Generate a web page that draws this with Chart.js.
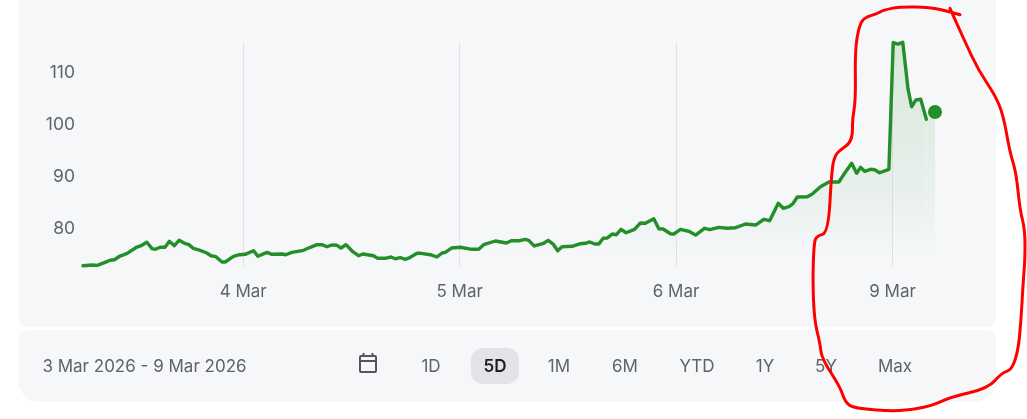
<!DOCTYPE html>
<html><head><meta charset="utf-8">
<script src="https://cdn.jsdelivr.net/npm/chart.js@4"></script>
<style>
html,body{margin:0;padding:0;background:#fff;width:1027px;height:419px;overflow:hidden;font-family:Inter,sans-serif}
.p{position:absolute;background:#f6f7f9}
#top{left:18px;top:-10px;width:978px;height:337px;border-radius:0 0 9px 9px}
#bot{left:18px;top:330px;width:978px;height:72px;border-radius:9px 9px 22px 22px}
canvas{position:absolute;left:0;top:0}
.t{position:absolute;top:355px;height:22px;line-height:22px;font-size:17px;color:#5f6368;white-space:nowrap;transform:translateX(-50%)}
#pill{position:absolute;left:471px;top:348px;width:48px;height:36px;border-radius:12px;background:#e2e3e8}
svg{position:absolute;left:0;top:0}
</style></head><body>
<div class="p" id="top"></div><div class="p" id="bot"></div><div id="pill"></div>
<canvas id="c" width="1027" height="419"></canvas>
<div class="t" style="left:144.5px">3 Mar 2026 - 9 Mar 2026</div>
<svg width="1027" height="419" viewBox="0 0 1027 419" fill="none">
<g stroke="#54565b" stroke-width="2"><rect x="360" y="356" width="16" height="16" rx="1"/><path d="M360 361H376M363.5 353V356M372.5 353V356"/></g>
</svg>
<div id="ranges"></div>
<svg width="1027" height="419" viewBox="0 0 1027 419" fill="none" style="z-index:5">
<path id="scribble" stroke="#ff0000" stroke-width="3" stroke-linejoin="round" stroke-linecap="round"/>
</svg>
<script>
const times=[0.260,0.301,0.326,0.362,0.385,0.405,0.431,0.462,0.509,0.532,0.555,0.579,0.595,0.616,0.639,0.659,0.682,0.704,0.729,0.747,0.770,0.801,0.832,0.851,0.874,0.902,0.917,0.955,0.983,1.009,1.048,1.068,1.110,1.133,1.179,1.197,1.225,1.279,1.310,1.341,1.364,1.387,1.410,1.433,1.452,1.475,1.503,1.533,1.553,1.602,1.621,1.656,1.683,1.703,1.726,1.749,1.772,1.803,1.822,1.865,1.895,1.919,1.934,1.962,2.003,2.057,2.088,2.111,2.165,2.216,2.238,2.277,2.304,2.319,2.345,2.388,2.409,2.432,2.453,2.473,2.520,2.558,2.581,2.601,2.624,2.643,2.663,2.681,2.705,2.724,2.746,2.769,2.808,2.835,2.858,2.897,2.920,2.940,2.974,2.989,3.020,3.059,3.090,3.131,3.156,3.197,3.236,3.275,3.321,3.367,3.405,3.432,3.472,3.495,3.521,3.541,3.560,3.606,3.629,3.667,3.706,3.752,3.775,3.811,3.834,3.852,3.871,3.899,3.917,3.940,3.983,4.003,4.025,4.047,4.071,4.088,4.107,4.130,4.156,4.196];
const prices=[72.56,72.69,72.63,73.21,73.6,73.71,74.42,74.87,76.15,76.48,77.06,75.83,75.71,76.1,76.1,77.25,76.4,77.44,76.87,76.67,75.9,75.52,75.0,74.48,74.29,73.27,73.27,74.37,74.67,74.75,75.44,74.37,75.13,74.75,74.81,74.67,75.13,75.52,76.1,76.6,76.6,76.21,76.54,76.48,75.96,76.6,75.38,74.48,74.81,74.48,73.98,73.98,74.23,73.9,74.1,73.79,74.17,74.94,74.94,74.67,74.23,75.0,75.13,75.96,76.1,75.71,75.71,76.6,77.31,76.92,77.37,77.37,77.63,77.44,76.35,76.87,77.44,76.73,75.44,76.21,76.29,76.79,76.87,77.12,76.73,76.73,77.83,77.88,78.65,78.52,79.56,78.9,79.56,80.77,80.71,81.6,79.67,79.62,78.71,78.65,79.56,79.17,78.46,79.75,79.48,79.94,79.75,79.87,80.58,80.38,81.48,81.21,84.56,83.6,83.9,84.56,85.77,85.83,86.35,87.75,88.65,88.65,90.13,92.25,90.33,91.48,90.71,91.1,91.02,90.44,91.1,115.48,115.19,115.52,106.67,103.13,104.42,104.56,100.71,102.11];
const dayTicks=[1,2,3,4];
const dayLabels=['4 Mar','5 Mar','6 Mar','9 Mar'];
const priceTicks=[80,90,100,110];
const rangeLabels=['1D','5D','1M','6M','YTD','1Y','5Y','Max'];
const rangeCentres=[431,495,559,625,697,765,826,895];

rangeLabels.forEach((l,i)=>{const d=document.createElement('div');d.className='t';d.textContent=l;d.style.left=rangeCentres[i]+'px';
 if(l==='5D'){d.style.color='#1f1f1f';d.style.fontWeight='600';}document.getElementById('ranges').appendChild(d);});

// hand-drawn red annotation, smoothed through its traced points
const scribble=[[960,14.7],[950,11.7],[930,7.3],[900,6.7],[883.3,10],[876.7,14],[865,17.3],[859.3,25],[855,50],[855.7,100],[852.3,120],[852.7,133],[850,143],[841.7,149],[835,155],[831.7,170],[828.3,232.7],[816.7,236],[814,243],[812.7,280],[814.3,320],[820,343.3],[821.7,358.3],[840,386.7],[845,401.7],[853.3,408.3],[900,411.7],[931.7,406],[950,397.3],[988.3,388.3],[1001.7,372.7],[1011.7,370],[1018.3,350],[1021,320],[1023.3,280],[1025,260],[1025,230],[1020,210],[1016,171.7],[1010,153],[1003.3,115],[995,95],[978.3,70],[965,41.7],[956.7,23.3],[950,8.3]];
let d='M'+scribble[0].join(' ');
for(let i=1;i<scribble.length-1;i++){const m=[(scribble[i][0]+scribble[i+1][0])/2,(scribble[i][1]+scribble[i+1][1])/2];d+=`Q${scribble[i].join(' ')} ${m.join(' ')}`;}
d+='L'+scribble[scribble.length-1].join(' ');
document.getElementById('scribble').setAttribute('d',d);

const GREEN='#228f28';
const last=times.length-1;
const FONT='Inter';
new Chart(document.getElementById('c'),{
 type:'line',
 data:{datasets:[{
  data:times.map((t,i)=>({x:t,y:prices[i]})),
  borderColor:GREEN,borderWidth:3.4,tension:0,borderJoinStyle:'round',borderCapStyle:'round',
  segment:{borderColor:c=>c.p1DataIndex===last?'rgba(0,0,0,0)':undefined},
  pointRadius:c=>c.dataIndex===last?7:0,pointBackgroundColor:GREEN,pointBorderWidth:0,
  fill:'origin',clip:false,
  backgroundColor:c=>{const a=c.chart.chartArea;if(!a)return 'transparent';
   const g=c.chart.ctx.createLinearGradient(0,a.top,0,a.bottom-10);
   g.addColorStop(0,'rgba(34,139,39,0.14)');g.addColorStop(0.7,'rgba(34,139,39,0.06)');g.addColorStop(1,'rgba(34,139,39,0)');return g;}
 }]},
 options:{
  responsive:false,animation:false,devicePixelRatio:1,
  layout:{padding:{left:0,right:92,top:42,bottom:0}},
  plugins:{legend:{display:false},tooltip:{enabled:false}},
  scales:{
   x:{type:'linear',min:0.26,max:4.196,
    afterBuildTicks:s=>{s.ticks=dayTicks.map(v=>({value:v}));},
    afterFit:s=>{s.height=152;},
    grid:{drawTicks:false,color:'#e1e2e5',lineWidth:1},border:{display:false},
    ticks:{autoSkip:false,maxRotation:0,padding:15,color:'#5f6368',font:{family:FONT,size:17},
     callback:v=>dayLabels[dayTicks.indexOf(v)]}},
   y:{type:'linear',min:72.31,max:115.58,
    afterBuildTicks:s=>{s.ticks=priceTicks.map(v=>({value:v}));},
    afterFit:s=>{s.width=83;},
    grid:{display:false},border:{display:false},
    ticks:{padding:0,labelOffset:2,color:'#5f6368',font:{family:FONT,size:17.5}}}
  }
 }
});
</script>
</body></html>
